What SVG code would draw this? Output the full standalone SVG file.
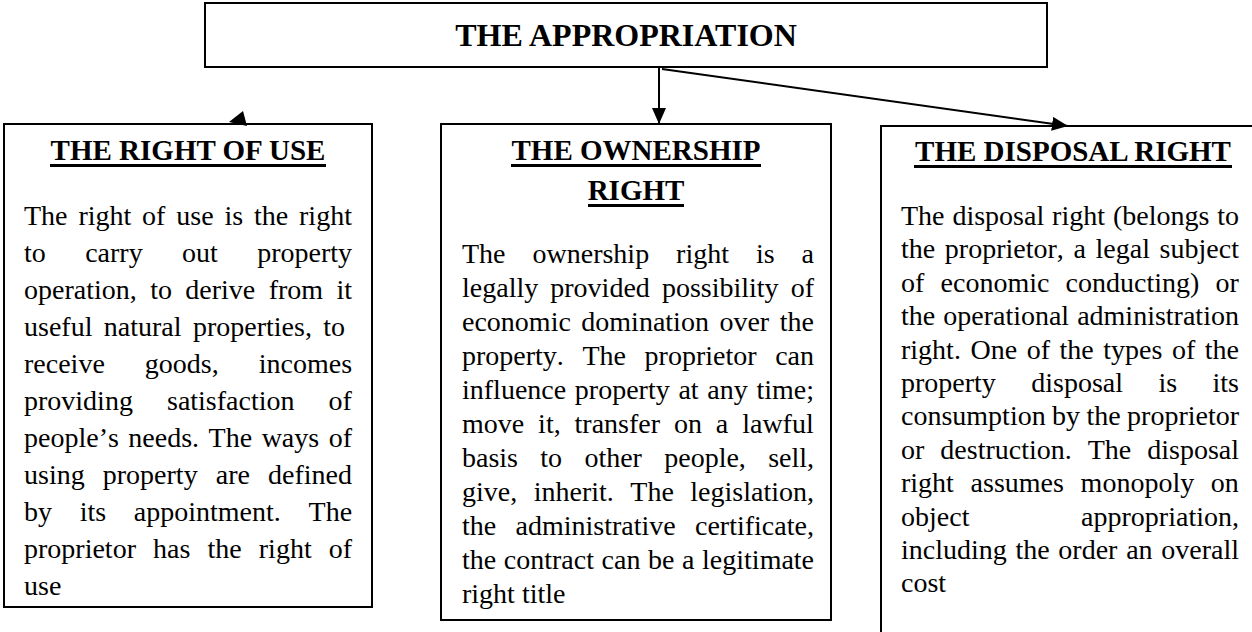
<svg xmlns="http://www.w3.org/2000/svg" width="1252" height="632" viewBox="0 0 1252 632">
<style>
.box{fill:#fff;stroke:#000;stroke-width:2}
.ttl{font-family:"Liberation Serif","Times New Roman",serif;font-weight:bold;font-size:32px;text-anchor:middle;fill:#000}
.hdr{font-family:"Liberation Serif","Times New Roman",serif;font-weight:bold;font-size:29px;text-anchor:middle;fill:#000}
.ul{stroke:#000;stroke-width:3}
.bd{font-family:"Liberation Serif","Times New Roman",serif;font-size:28px;fill:#000;font-kerning:none}
.con{stroke:#000;stroke-width:2;fill:none}
</style>
<defs>
<marker id="ah" markerUnits="userSpaceOnUse" markerWidth="16" markerHeight="14" refX="16" refY="7" orient="auto">
<path d="M0,0 L16,7 L0,14 z" fill="#000"/>
</marker>
</defs>
<rect width="1252" height="632" fill="#fff"/>

<g id="node-appropriation">
<rect class="box" x="205" y="3" width="842" height="64"/>
<text class="ttl" x="626" y="46">THE APPROPRIATION</text>
</g>

<g id="node-right-of-use">
<rect class="box" x="4" y="124" width="368" height="483"/>
<text class="hdr" x="188" y="160">THE RIGHT OF USE</text>
<line class="ul" x1="50" y1="165.5" x2="326" y2="165.5"/>
<text class="bd" x="24" y="225" style="word-spacing:3.85px">The right of use is the right</text>
<text class="bd" x="24" y="262" style="word-spacing:32.4px">to carry out property</text>
<text class="bd" x="24" y="299" style="word-spacing:6.4px">operation, to derive from it</text>
<text class="bd" x="24" y="336" style="word-spacing:4.4px">useful natural properties, to</text>
<text class="bd" x="24" y="373" style="word-spacing:33px">receive goods, incomes</text>
<text class="bd" x="24" y="410" style="word-spacing:27.1px">providing satisfaction of</text>
<text class="bd" x="24" y="447" style="word-spacing:2.5px">people’s needs. The ways of</text>
<text class="bd" x="24" y="484" style="word-spacing:11.1px">using property are defined</text>
<text class="bd" x="24" y="521" style="word-spacing:20.7px">by its appointment. The</text>
<text class="bd" x="24" y="558" style="word-spacing:10.1px">proprietor has the right of</text>
<text class="bd" x="24" y="595">use</text>
</g>

<g id="node-ownership-right">
<rect class="box" x="441" y="124" width="390" height="496"/>
<text class="hdr" x="636" y="160">THE OWNERSHIP</text>
<line class="ul" x1="511" y1="165.5" x2="761" y2="165.5"/>
<text class="hdr" x="636" y="200">RIGHT</text>
<line class="ul" x1="588" y1="205.5" x2="684" y2="205.5"/>
<text class="bd" x="462" y="263" style="word-spacing:19.95px">The ownership right is a</text>
<text class="bd" x="462" y="297" style="word-spacing:5.1px">legally provided possibility of</text>
<text class="bd" x="462" y="331" style="word-spacing:3.5px">economic domination over the</text>
<text class="bd" x="462" y="365" style="word-spacing:11.6px">property. The proprietor can</text>
<text class="bd" x="462" y="399" style="word-spacing:1.7px">influence property at any time;</text>
<text class="bd" x="462" y="433" style="word-spacing:6.9px">move it, transfer on a lawful</text>
<text class="bd" x="462" y="467" style="word-spacing:15.3px">basis to other people, sell,</text>
<text class="bd" x="462" y="501" style="word-spacing:9.5px">give, inherit. The legislation,</text>
<text class="bd" x="462" y="535" style="word-spacing:12.3px">the administrative certificate,</text>
<text class="bd" x="462" y="569" style="word-spacing:0.6px">the contract can be a legitimate</text>
<text class="bd" x="462" y="603">right title</text>
</g>

<g id="node-disposal-right">
<path class="box" d="M881,634 V126 H1254" fill="none"/>
<text class="hdr" x="1073" y="161">THE DISPOSAL RIGHT</text>
<line class="ul" x1="914" y1="166.5" x2="1232" y2="166.5"/>
<text class="bd" x="901" y="225" style="word-spacing:0.9px">The disposal right (belongs to</text>
<text class="bd" x="901" y="258.4" style="word-spacing:2.65px">the proprietor, a legal subject</text>
<text class="bd" x="901" y="291.8" style="word-spacing:9.2px">of economic conducting) or</text>
<text class="bd" x="901" y="325.2" style="word-spacing:1px">the operational administration</text>
<text class="bd" x="901" y="358.6" style="word-spacing:2.55px">right. One of the types of the</text>
<text class="bd" x="901" y="392" style="word-spacing:28.4px">property disposal is its</text>
<text class="bd" x="901" y="425.4" style="word-spacing:-0.6px">consumption by the proprietor</text>
<text class="bd" x="901" y="458.8" style="word-spacing:9px">or destruction. The disposal</text>
<text class="bd" x="901" y="492.2" style="word-spacing:9.7px">right assumes monopoly on</text>
<text class="bd" x="901" y="525.6" style="word-spacing:104.7px">object appropriation,</text>
<text class="bd" x="901" y="559" style="word-spacing:1.7px">including the order an overall</text>
<text class="bd" x="901" y="592.4">cost</text>
</g>

<g id="connectors">
<line class="con" x1="659" y1="68" x2="659" y2="124" marker-end="url(#ah)"/>
<line class="con" x1="662" y1="69" x2="1068" y2="126" marker-end="url(#ah)"/>
<polygon points="243,111 229,122 247,126" fill="#000"/>
</g>
</svg>
